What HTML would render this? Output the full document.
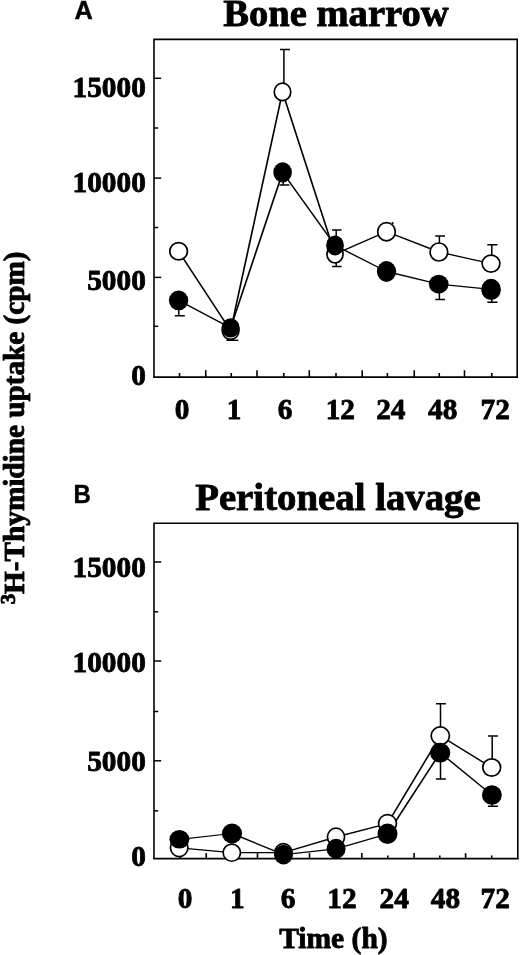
<!DOCTYPE html>
<html lang="en"><head><meta charset="utf-8"><title>3H-Thymidine uptake</title>
<style>html,body{margin:0;padding:0;background:#fff}body{width:520px;height:955px;overflow:hidden}svg{display:block}.s{font-family:'Liberation Serif', 'Times New Roman', serif;font-weight:bold;fill:#000;stroke:#000;stroke-width:0.85px;stroke-linejoin:round}.a{font-family:'Liberation Sans', Arial, sans-serif;font-weight:bold;fill:#000;stroke:#000;stroke-width:0.4px}</style></head><body>
<svg width="520" height="955" viewBox="0 0 520 955">
<rect width="520" height="955" fill="#fff"/>
<text class="a" x="74.6" y="18.7" font-size="25.3">A</text>
<text class="s" transform="translate(223.2,25.8) scale(1.043,1)" font-size="37">Bone marrow</text>
<path d="M154,377.2 L154,39.35 L517.2,39.35 L517.2,377.2" fill="none" stroke="#000" stroke-width="1.6" stroke-linejoin="miter"/>
<path d="M153.2,377.2 L518.0,377.2" fill="none" stroke="#000" stroke-width="1.7"/>
<path d="M154,78.3 h7.2" stroke="#000" stroke-width="1.5"/>
<path d="M154,178.1 h7.2" stroke="#000" stroke-width="1.5"/>
<path d="M154,277.4 h7.2" stroke="#000" stroke-width="1.5"/>
<path d="M154,128.0 h4.2" stroke="#000" stroke-width="1.5"/>
<path d="M154,227.5 h4.2" stroke="#000" stroke-width="1.5"/>
<path d="M154,326.3 h4.2" stroke="#000" stroke-width="1.5"/>
<path d="M179.5,377.2 v-4.2" stroke="#000" stroke-width="1.6"/>
<path d="M205.75,377.2 v-7.0" stroke="#000" stroke-width="1.6"/>
<path d="M231.25,377.2 v-4.2" stroke="#000" stroke-width="1.6"/>
<path d="M257,377.2 v-7.0" stroke="#000" stroke-width="1.6"/>
<path d="M283.75,377.2 v-4.2" stroke="#000" stroke-width="1.6"/>
<path d="M309.3,377.2 v-7.0" stroke="#000" stroke-width="1.6"/>
<path d="M336.0,377.2 v-4.2" stroke="#000" stroke-width="1.6"/>
<path d="M362.2,377.2 v-7.0" stroke="#000" stroke-width="1.6"/>
<path d="M387.4,377.2 v-4.2" stroke="#000" stroke-width="1.6"/>
<path d="M414.25,377.2 v-7.0" stroke="#000" stroke-width="1.6"/>
<path d="M439.25,377.2 v-4.2" stroke="#000" stroke-width="1.6"/>
<path d="M464.5,377.2 v-7.0" stroke="#000" stroke-width="1.6"/>
<path d="M491.75,377.2 v-4.2" stroke="#000" stroke-width="1.6"/>
<text class="s" x="145.8" y="97.4" font-size="29.3" text-anchor="end">15000</text>
<text class="s" x="145.8" y="191.8" font-size="29.3" text-anchor="end">10000</text>
<text class="s" x="145.8" y="290" font-size="29.3" text-anchor="end">5000</text>
<text class="s" x="145.8" y="385.3" font-size="29.3" text-anchor="end">0</text>
<text class="s" x="182" y="419.3" font-size="29.3" text-anchor="middle">0</text>
<text class="s" x="234" y="419.3" font-size="29.3" text-anchor="middle">1</text>
<text class="s" x="285" y="419.3" font-size="29.3" text-anchor="middle">6</text>
<text class="s" x="340.3" y="419.3" font-size="29.3" text-anchor="middle">12</text>
<text class="s" x="390.8" y="419.3" font-size="29.3" text-anchor="middle">24</text>
<text class="s" x="442.7" y="419.3" font-size="29.3" text-anchor="middle">48</text>
<text class="s" x="495.2" y="419.3" font-size="29.3" text-anchor="middle">72</text>
<path d="M178.6,251.3 L230.6,330.6" stroke="#000" stroke-width="1.58"/>
<path d="M230.6,330.6 L282.5,91.9" stroke="#000" stroke-width="1.64"/>
<path d="M282.5,91.9 L335.0,254.2" stroke="#000" stroke-width="1.63"/>
<path d="M335.0,254.2 L386.5,231.7" stroke="#000" stroke-width="1.38"/>
<path d="M386.5,231.7 L438.9,252.0" stroke="#000" stroke-width="1.36"/>
<path d="M438.9,252.0 L491.0,263.6" stroke="#000" stroke-width="1.3"/>
<path d="M178.6,300.4 L230.6,327.9" stroke="#000" stroke-width="1.41"/>
<path d="M230.6,327.9 L282.6,172.4" stroke="#000" stroke-width="1.63"/>
<path d="M282.6,172.4 L335.0,245.4" stroke="#000" stroke-width="1.57"/>
<path d="M335.0,245.4 L386.5,271.5" stroke="#000" stroke-width="1.4"/>
<path d="M386.5,271.5 L438.7,284.1" stroke="#000" stroke-width="1.31"/>
<path d="M438.7,284.1 L491.1,289.4" stroke="#000" stroke-width="1.25"/>
<path d="M283.9,92 V49.6 M280.0,49.6 h10" stroke="#000" stroke-width="1.5" fill="none"/>
<path d="M178.8,300 V315.8 M174.8,315.8 h10" stroke="#000" stroke-width="1.5" fill="none"/>
<path d="M283.2,172 V185.1 M279.4,185.1 h10" stroke="#000" stroke-width="1.5" fill="none"/>
<path d="M226.5,340.3 H238.3" stroke="#000" stroke-width="1.4"/>
<path d="M336.2,245 V230 M332.0,230 h9.6" stroke="#000" stroke-width="1.5" fill="none"/>
<path d="M336.2,255 V266.6 M332.0,266.6 h9.6" stroke="#000" stroke-width="1.5" fill="none"/>
<path d="M439.4,252 V236 M435.2,236 h9.8" stroke="#000" stroke-width="1.5" fill="none"/>
<path d="M439.4,284 V299.6 M435.2,299.6 h9.8" stroke="#000" stroke-width="1.5" fill="none"/>
<path d="M491.8,263 V244.8 M487.3,244.8 h10.2" stroke="#000" stroke-width="1.5" fill="none"/>
<path d="M491.8,289 V302.2 M487.3,302.2 h10.2" stroke="#000" stroke-width="1.5" fill="none"/>
<ellipse cx="178.6" cy="251.3" rx="8.8" ry="8.65" fill="#fff" stroke="#000" stroke-width="1.7"/>
<ellipse cx="230.6" cy="330.6" rx="8.4" ry="8.8" fill="#fff" stroke="#000" stroke-width="1.7"/>
<ellipse cx="282.5" cy="91.9" rx="8.25" ry="8.75" fill="#fff" stroke="#000" stroke-width="1.7"/>
<ellipse cx="335.0" cy="254.2" rx="8.05" ry="8.8" fill="#fff" stroke="#000" stroke-width="1.7"/>
<ellipse cx="386.5" cy="231.7" rx="8.8" ry="9.15" fill="#fff" stroke="#000" stroke-width="1.7"/>
<ellipse cx="438.9" cy="252.0" rx="8.8" ry="9.0" fill="#fff" stroke="#000" stroke-width="1.7"/>
<ellipse cx="491.0" cy="263.6" rx="8.9" ry="8.45" fill="#fff" stroke="#000" stroke-width="1.7"/>
<ellipse cx="178.6" cy="300.4" rx="9.7" ry="9.9" fill="#000"/>
<ellipse cx="230.6" cy="327.9" rx="9.1" ry="9.6" fill="#000"/>
<ellipse cx="282.6" cy="172.4" rx="9.3" ry="10.15" fill="#000"/>
<ellipse cx="335.0" cy="245.4" rx="8.9" ry="10.0" fill="#000"/>
<ellipse cx="386.5" cy="271.5" rx="9.65" ry="10.4" fill="#000"/>
<ellipse cx="438.7" cy="284.1" rx="9.85" ry="9.3" fill="#000"/>
<ellipse cx="491.1" cy="289.4" rx="9.85" ry="10.6" fill="#000"/>
<path d="M392,222.3 l1.4,1.6" stroke="#000" stroke-width="1.6"/>
<text class="a" transform="translate(73.4,502.5) scale(0.95,1)" font-size="25.3">B</text>
<text class="s" transform="translate(195.2,509.5) scale(1.049,1)" font-size="37">Peritoneal lavage</text>
<path d="M154,858.7 L154,523.2 L517.8,523.2 L517.8,858.7" fill="none" stroke="#000" stroke-width="1.6" stroke-linejoin="miter"/>
<path d="M153.2,858.7 L518.5999999999999,858.7" fill="none" stroke="#000" stroke-width="1.7"/>
<path d="M154,562 h7.2" stroke="#000" stroke-width="1.5"/>
<path d="M154,661 h7.2" stroke="#000" stroke-width="1.5"/>
<path d="M154,760.8 h7.2" stroke="#000" stroke-width="1.5"/>
<path d="M154,611.8 h4.2" stroke="#000" stroke-width="1.5"/>
<path d="M154,711.5 h4.2" stroke="#000" stroke-width="1.5"/>
<path d="M154,810.8 h4.2" stroke="#000" stroke-width="1.5"/>
<path d="M180.3,858.7 v-3.3" stroke="#000" stroke-width="1.6"/>
<path d="M206.25,858.7 v-5.6" stroke="#000" stroke-width="1.6"/>
<path d="M232.2,858.7 v-3.3" stroke="#000" stroke-width="1.6"/>
<path d="M257.5,858.7 v-5.6" stroke="#000" stroke-width="1.6"/>
<path d="M284.0,858.7 v-3.3" stroke="#000" stroke-width="1.6"/>
<path d="M309.5,858.7 v-5.6" stroke="#000" stroke-width="1.6"/>
<path d="M335.9,858.7 v-3.3" stroke="#000" stroke-width="1.6"/>
<path d="M361.8,858.7 v-5.6" stroke="#000" stroke-width="1.6"/>
<path d="M387.8,858.7 v-3.3" stroke="#000" stroke-width="1.6"/>
<path d="M414.1,858.7 v-5.6" stroke="#000" stroke-width="1.6"/>
<path d="M439.8,858.7 v-3.3" stroke="#000" stroke-width="1.6"/>
<path d="M465.6,858.7 v-5.6" stroke="#000" stroke-width="1.6"/>
<path d="M491.7,858.7 v-3.3" stroke="#000" stroke-width="1.6"/>
<text class="s" x="145.8" y="577.4" font-size="29.3" text-anchor="end">15000</text>
<text class="s" x="145.8" y="672.3" font-size="29.3" text-anchor="end">10000</text>
<text class="s" x="145.8" y="771" font-size="29.3" text-anchor="end">5000</text>
<text class="s" x="145.8" y="866" font-size="29.3" text-anchor="end">0</text>
<text class="s" x="185" y="907.9" font-size="29.3" text-anchor="middle">0</text>
<text class="s" x="237.4" y="907.9" font-size="29.3" text-anchor="middle">1</text>
<text class="s" x="288" y="907.9" font-size="29.3" text-anchor="middle">6</text>
<text class="s" x="342" y="907.9" font-size="29.3" text-anchor="middle">12</text>
<text class="s" x="394.2" y="907.9" font-size="29.3" text-anchor="middle">24</text>
<text class="s" x="445.5" y="907.9" font-size="29.3" text-anchor="middle">48</text>
<text class="s" x="495.2" y="907.9" font-size="29.3" text-anchor="middle">72</text>
<path d="M179.2,847.8 L231.8,852.7" stroke="#000" stroke-width="1.24"/>
<path d="M231.8,852.7 L283.4,852.6" stroke="#000" stroke-width="1.2"/>
<path d="M283.4,852.6 L336.0,837.0" stroke="#000" stroke-width="1.33"/>
<path d="M336.0,837.0 L387.5,823.6" stroke="#000" stroke-width="1.31"/>
<path d="M387.5,823.6 L440.3,735.8" stroke="#000" stroke-width="1.59"/>
<path d="M440.3,735.8 L491.7,767.5" stroke="#000" stroke-width="1.44"/>
<path d="M179.4,839.3 L232.0,833.5" stroke="#000" stroke-width="1.25"/>
<path d="M232.0,833.5 L283.5,854.6" stroke="#000" stroke-width="1.37"/>
<path d="M283.5,854.6 L336.1,848.8" stroke="#000" stroke-width="1.25"/>
<path d="M336.1,848.8 L387.5,833.8" stroke="#000" stroke-width="1.33"/>
<path d="M387.5,833.8 L440.2,752.7" stroke="#000" stroke-width="1.58"/>
<path d="M440.2,752.7 L491.9,795.0" stroke="#000" stroke-width="1.48"/>
<path d="M440.5,735 V703.7 M435.9,703.7 h10" stroke="#000" stroke-width="1.5" fill="none"/>
<path d="M440.5,753 V779.1 M435.9,779.1 h10" stroke="#000" stroke-width="1.5" fill="none"/>
<path d="M492.2,767 V736 M487.9,736 h10" stroke="#000" stroke-width="1.5" fill="none"/>
<path d="M492.2,794 V806.3 M487.9,806.3 h10" stroke="#000" stroke-width="1.5" fill="none"/>
<ellipse cx="179.2" cy="847.8" rx="8.75" ry="8.8" fill="#fff" stroke="#000" stroke-width="1.7"/>
<ellipse cx="179.4" cy="839.3" rx="9.95" ry="9.3" fill="#000"/>
<ellipse cx="232.0" cy="833.5" rx="10.1" ry="9.95" fill="#000"/>
<ellipse cx="231.8" cy="852.7" rx="8.65" ry="8.55" fill="#fff" stroke="#000" stroke-width="1.7"/>
<ellipse cx="283.4" cy="852.6" rx="8.65" ry="8.95" fill="#fff" stroke="#000" stroke-width="1.7"/>
<ellipse cx="283.5" cy="854.6" rx="9.5" ry="9.8" fill="#000"/>
<ellipse cx="336.0" cy="837.0" rx="8.55" ry="8.85" fill="#fff" stroke="#000" stroke-width="1.7"/>
<ellipse cx="336.1" cy="848.8" rx="9.5" ry="10.0" fill="#000"/>
<ellipse cx="387.5" cy="823.6" rx="8.95" ry="8.95" fill="#fff" stroke="#000" stroke-width="1.7"/>
<ellipse cx="387.5" cy="833.8" rx="10.0" ry="10.2" fill="#000"/>
<ellipse cx="440.3" cy="735.8" rx="9.15" ry="8.85" fill="#fff" stroke="#000" stroke-width="1.7"/>
<ellipse cx="440.2" cy="752.7" rx="10.1" ry="9.9" fill="#000"/>
<ellipse cx="491.7" cy="767.5" rx="8.95" ry="8.55" fill="#fff" stroke="#000" stroke-width="1.7"/>
<ellipse cx="491.9" cy="795.0" rx="9.95" ry="9.8" fill="#000"/>
<text class="s" x="279.2" y="947.9" font-size="29.5">Time (h)</text>
<text class="s" transform="translate(24.3,604.3) rotate(-90) scale(1.015,1)" font-size="28.8"><tspan font-size="20.5" dy="-9.6">3</tspan><tspan dy="9.6">H-Thymidine uptake (cpm)</tspan></text>
</svg></body></html>
